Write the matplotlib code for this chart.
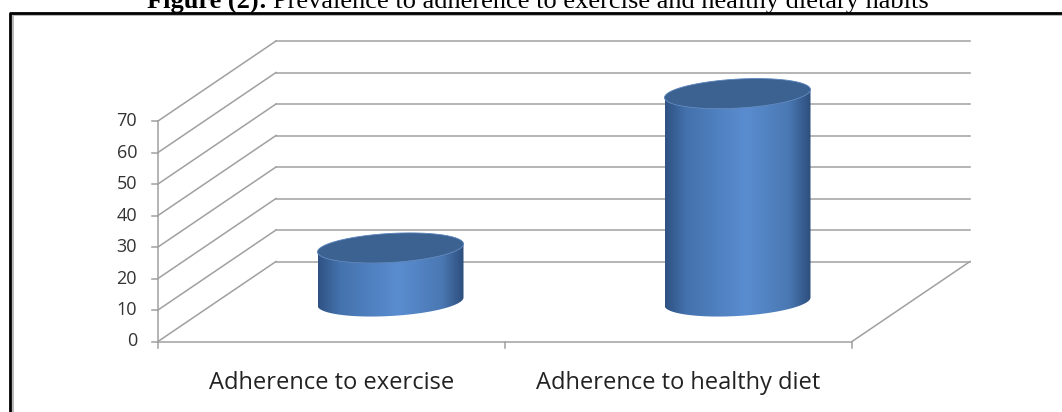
import numpy as np
import matplotlib
matplotlib.use("Agg")
import matplotlib.pyplot as plt
from matplotlib.patches import Polygon
from matplotlib.colors import LinearSegmentedColormap
from matplotlib.lines import Line2D

# datos
categorias = ["Adherence to exercise", "Adherence to healthy diet"]
valores = [17, 66]
ticks_y = [0, 10, 20, 30, 40, 50, 60, 70]

W, H = 1062, 412
fig = plt.figure(figsize=(W / 100, H / 100), dpi=100)
ax = fig.add_axes([0, 0, 1, 1])

# escala: 347 px por categoria, 3.15 px por unidad
px_u, px_v = 347.0, 3.15
x0, y0 = 158.0, 341.5
ax.axis("off")

# profundidad (proyeccion oblicua)
du, dv = 118 / px_u, 80 / px_v
n = len(categorias)
vmax = ticks_y[-1]
gris = "#A0A0A0"

# pared trasera y lateral
for k in ticks_y:
    ax.plot([du, n + du], [k + dv, k + dv], color=gris, lw=1.1, zorder=1)
    ax.plot([0, du], [k, k + dv], color=gris, lw=1.1, zorder=1)
    ax.plot([-6 / px_u, 0], [k, k], color=gris, lw=1.1, zorder=1)
    ax.text(-21 / px_u, k, str(k), ha="right", va="center", fontsize=13,
            family="Open Sans", color="#333333")

# piso
ax.plot([0, n], [0, 0], color=gris, lw=1.1, zorder=1)
ax.plot([n, n + du], [0, dv], color=gris, lw=1.1, zorder=1)
ax.plot([0, 0], [0, vmax], color=gris, lw=1.1, zorder=1)
for i in range(n + 1):
    ax.plot([i, i], [0, -6 / px_v], color=gris, lw=1.1, zorder=1)

for i, cat in enumerate(categorias):
    ax.text(i + 0.5, (y0 - 383) / px_v, cat, ha="center", va="center",
            fontsize=17, family="Open Sans", color="#222222")

# cilindros
a = 73 / px_u
b = 14.5 / px_v
s = 4 / px_v
cmap = LinearSegmentedColormap.from_list("cil", [
    (0.0, "#2F5283"), (0.15, "#4472AD"), (0.55, "#5A8DD0"),
    (0.85, "#4A78B3"), (1.0, "#2D4E7C")])


def elipse(uc, v, t):
    return np.column_stack([uc + a * np.cos(t), v + b * np.sin(t) + s * np.cos(t)])


for i, val in enumerate(valores):
    uc = i + 0.5 + du / 2
    vb = dv / 2
    vt = vb + val
    t_inf = np.linspace(np.pi, 2 * np.pi, 80)
    abajo = elipse(uc, vb, t_inf)
    arriba = elipse(uc, vt, t_inf[::-1])
    cuerpo = np.vstack([abajo, arriba])
    parche = Polygon(cuerpo, closed=True, facecolor="none", edgecolor="none", zorder=3)
    ax.add_patch(parche)
    grad = np.linspace(0, 1, 256).reshape(1, -1)
    im = ax.imshow(grad, cmap=cmap, aspect="auto", zorder=3,
                   extent=[uc - a, uc + a, vb - b - 2, vt + b + 2], interpolation="bilinear")
    im.set_clip_path(parche)
    tapa = elipse(uc, vt, np.linspace(0, 2 * np.pi, 160))
    ax.add_patch(Polygon(tapa, closed=True, facecolor="#3C6292", edgecolor="#5A84BC",
                         lw=0.6, zorder=4))

ax.set_xlim(-x0 / px_u, (W - x0) / px_u)
ax.set_ylim((y0 - H) / px_v, y0 / px_v)


# marco y titulo
def fx(px):
    return px / W


def fy(py):
    return 1 - py / H


fig.add_artist(Line2D([fx(12.5), fx(12.5), fx(W)], [fy(H), fy(15), fy(15)],
                      color="#AAAAAA", lw=1.2, transform=fig.transFigure))
fig.add_artist(Line2D([fx(10), fx(10), fx(W)], [fy(H), fy(13), fy(13)],
                      color="black", lw=2.0, transform=fig.transFigure))

t1 = fig.text(fx(147), fy(8), "Figure (2):", ha="left", va="baseline",
              fontsize=19, fontweight="bold", family="Liberation Serif")
r = fig.canvas.get_renderer()
w1 = t1.get_window_extent(r).width
fig.text(fx(147 + w1 + 6), fy(8), "Prevalence to adherence to exercise and healthy dietary habits",
         ha="left", va="baseline", fontsize=19, family="Liberation Serif")

fig.savefig("out.png", dpi=100)
